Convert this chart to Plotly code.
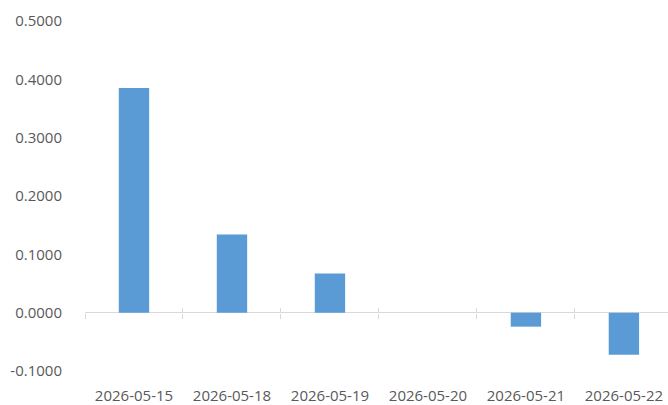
import plotly.graph_objects as go

categories = ["2026-05-15", "2026-05-18", "2026-05-19", "2026-05-20", "2026-05-21", "2026-05-22"]
values = [0.385, 0.134, 0.067, 0.0, -0.024, -0.072]
y_ticks = [-0.1, 0.0, 0.1, 0.2, 0.3, 0.4, 0.5]
y_tick_labels = ["{:.4f}".format(v) for v in y_ticks]

n = len(categories)
x_idx = list(range(n))
boundaries = [i - 0.5 for i in range(n + 1)]

text_color = "#595959"
font_family = "Open Sans, Noto Sans, sans-serif"
x_range = [-0.5, n - 0.55]
y_range = [-0.1, 0.5]
zero_pos = (0 - y_range[0]) / (y_range[1] - y_range[0])

fig = go.Figure()
fig.add_trace(go.Bar(
    x=x_idx, y=values, width=0.31,
    marker=dict(color="#5b9bd5", line=dict(width=0)),
    hoverinfo="skip",
))

fig.update_layout(
    width=668, height=405,
    autosize=False,
    margin=dict(l=85, r=0, t=21, b=34),
    paper_bgcolor="white",
    plot_bgcolor="white",
    showlegend=False,
    font=dict(family=font_family, size=15, color=text_color),
    xaxis=dict(
        range=x_range,
        tickvals=x_idx,
        ticktext=categories,
        showgrid=False,
        zeroline=False,
        showline=False,
        ticks="",
        automargin=False,
        ticklabelstandoff=14,
        tickfont=dict(size=15, color=text_color),
    ),
    xaxis2=dict(
        overlaying="x",
        anchor="free",
        position=zero_pos,
        range=x_range,
        tickvals=boundaries,
        showticklabels=False,
        showgrid=False,
        zeroline=False,
        showline=False,
        ticks="outside",
        ticklen=5,
        tickcolor="#d9d9d9",
        tickwidth=1,
    ),
    xaxis3=dict(
        overlaying="x",
        anchor="free",
        position=zero_pos,
        range=x_range,
        tickvals=boundaries,
        showticklabels=False,
        showgrid=False,
        zeroline=False,
        showline=False,
        ticks="inside",
        ticklen=5,
        tickcolor="#d9d9d9",
        tickwidth=1,
    ),
    yaxis=dict(
        range=y_range,
        tickvals=y_ticks,
        ticktext=y_tick_labels,
        showgrid=False,
        zeroline=True,
        zerolinecolor="#d9d9d9",
        zerolinewidth=1,
        showline=False,
        ticks="",
        automargin=False,
        ticklabelstandoff=22,
        tickfont=dict(size=15, color=text_color),
    ),
)

# invisible traces to activate helper axes
fig.add_trace(go.Scatter(x=[x_range[0]], y=[0], xaxis="x2", mode="markers",
                         marker=dict(opacity=0), hoverinfo="skip"))
fig.add_trace(go.Scatter(x=[x_range[0]], y=[0], xaxis="x3", mode="markers",
                         marker=dict(opacity=0), hoverinfo="skip"))

fig.write_html(
    "out.html",
    config={"displayModeBar": False, "staticPlot": True},
    post_script="document.body.style.margin='0';document.body.style.overflow='hidden';",
)
